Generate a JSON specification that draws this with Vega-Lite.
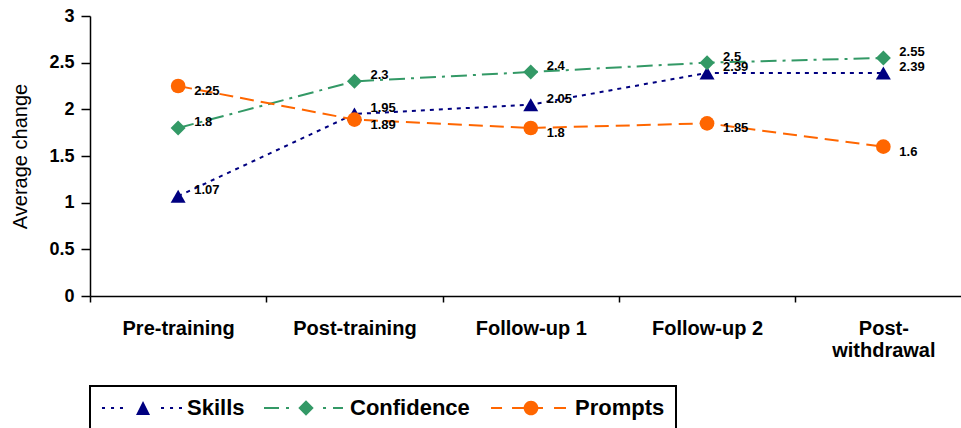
{
  "$schema": "https://vega.github.io/schema/vega-lite/v6.json",
  "width": 871,
  "height": 280,
  "autosize": {"type": "none"},
  "padding": {"left": 90, "top": 16, "right": 0, "bottom": 132},
  "background": "white",
  "config": {
    "view": {"stroke": null},
    "font": "Liberation Sans",
    "legend": {
      "orient": "bottom",
      "direction": "horizontal",
      "offset": 26,
      "strokeColor": "black",
      "strokeWidth": 2,
      "padding": 11,
      "symbolSize": 196,
      "symbolStrokeWidth": 0,
      "symbolOpacity": 1,
      "labelOffset": 64,
      "labelFont": "Liberation Sans",
      "labelFontSize": 22,
      "labelFontWeight": "bold",
      "labelColor": "black",
      "columnPadding": 19,
      "labelLimit": 0
    }
  },
  "data": {
    "values": [
      {"stage": "Pre-training", "series": "Skills", "value": 1.07},
      {"stage": "Post-training", "series": "Skills", "value": 1.95},
      {"stage": "Follow-up 1", "series": "Skills", "value": 2.05},
      {"stage": "Follow-up 2", "series": "Skills", "value": 2.39},
      {"stage": "Post-withdrawal", "series": "Skills", "value": 2.39},
      {"stage": "Pre-training", "series": "Confidence", "value": 1.8},
      {"stage": "Post-training", "series": "Confidence", "value": 2.3},
      {"stage": "Follow-up 1", "series": "Confidence", "value": 2.4},
      {"stage": "Follow-up 2", "series": "Confidence", "value": 2.5},
      {"stage": "Post-withdrawal", "series": "Confidence", "value": 2.55},
      {"stage": "Pre-training", "series": "Prompts", "value": 2.25},
      {"stage": "Post-training", "series": "Prompts", "value": 1.89},
      {"stage": "Follow-up 1", "series": "Prompts", "value": 1.8},
      {"stage": "Follow-up 2", "series": "Prompts", "value": 1.85},
      {"stage": "Post-withdrawal", "series": "Prompts", "value": 1.6}
    ]
  },
  "encoding": {
    "x": {
      "field": "stage",
      "type": "nominal",
      "sort": ["Pre-training", "Post-training", "Follow-up 1", "Follow-up 2", "Post-withdrawal"],
      "scale": {"type": "band", "paddingInner": 0, "paddingOuter": 0, "range": [0, 881.5]},
      "title": null,
      "axis": {
        "labelAngle": 0,
        "tickBand": "extent",
        "tickSize": 6,
        "tickWidth": 1.5,
        "tickColor": "black",
        "domainColor": "black",
        "domainWidth": 1.5,
        "labelFont": "Liberation Sans",
        "labelFontSize": 20,
        "labelFontWeight": "bold",
        "labelColor": "black",
        "labelPadding": 16,
        "labelLineHeight": 22,
        "labelLimit": 0,
        "labelExpr": "datum.label == 'Post-withdrawal' ? ['Post-', 'withdrawal'] : datum.label",
        "grid": false
      }
    },
    "y": {
      "field": "value",
      "type": "quantitative",
      "scale": {"domain": [0, 3], "nice": false},
      "title": "Average change",
      "axis": {
        "values": [0, 0.5, 1, 1.5, 2, 2.5, 3],
        "format": "~g",
        "grid": false,
        "tickSize": 9,
        "tickWidth": 1.5,
        "tickColor": "black",
        "domainColor": "black",
        "domainWidth": 1.5,
        "labelFont": "Liberation Sans",
        "labelFontSize": 18,
        "labelFontWeight": "bold",
        "labelColor": "black",
        "labelPadding": 7,
        "titleFont": "Liberation Sans",
        "titleFontSize": 20,
        "titleFontWeight": "normal",
        "titleColor": "black",
        "titlePadding": 18
      }
    }
  },
  "layer": [
    {
      "transform": [{"filter": "datum.series === 'Skills'"}],
      "mark": {"type": "line", "color": "#000080", "strokeWidth": 2, "strokeDash": [4, 5]}
    },
    {
      "transform": [{"filter": "datum.series === 'Confidence'"}],
      "mark": {"type": "line", "color": "#339966", "strokeWidth": 2, "strokeDash": [16, 6, 3, 6]}
    },
    {
      "transform": [{"filter": "datum.series === 'Prompts'"}],
      "mark": {"type": "line", "color": "#FF6600", "strokeWidth": 2, "strokeDash": [14, 7]}
    },
    {
      "mark": {"type": "point", "filled": true, "opacity": 0},
      "encoding": {
        "color": {
          "field": "series",
          "type": "nominal",
          "scale": {"domain": ["Skills", "Confidence", "Prompts"], "range": ["#000080", "#339966", "#FF6600"]},
          "legend": {"title": null, "symbolOpacity": 1}
        },
        "shape": {
          "field": "series",
          "type": "nominal",
          "scale": {
            "domain": ["Skills", "Confidence", "Prompts"],
            "range": [
              "M-1.43,-0.15H-1V0.15H-1.43Z M-0.14,-0.15H0.29V0.15H-0.14Z M1.14,-0.15H1.57V0.15H1.14Z M4.43,-1L5.43,1L3.43,1Z M7,-0.15H7.43V0.15H7Z M8.29,-0.15H8.72V0.15H8.29Z M9.57,-0.15H10V0.15H9.57Z",
              "M-1.57,-0.15H0.57V0.15H-1.57Z M1.57,-0.15H2V0.15H1.57Z M4.43,-1.1L5.53,0L4.43,1.1L3.33,0Z M6.86,-0.15H7.29V0.15H6.86Z M8.29,-0.15H9.71V0.15H8.29Z",
              "M-1.28,-0.15H0.29V0.15H-1.28Z M1.72,-0.15H3.43V0.15H1.72Z M5.48,0A1.05,1.05 0 1,1 3.38,0A1.05,1.05 0 1,1 5.48,0Z M5.43,-0.15H6.14V0.15H5.43Z M7.72,-0.15H9.43V0.15H7.72Z"
            ]
          },
          "legend": {"title": null, "symbolOpacity": 1}
        }
      }
    },
    {
      "transform": [{"filter": "datum.series === 'Skills'"}],
      "mark": {"type": "point", "shape": "triangle-up", "filled": true, "opacity": 1, "color": "#000080", "size": 225}
    },
    {
      "transform": [{"filter": "datum.series === 'Confidence'"}],
      "mark": {"type": "point", "shape": "diamond", "filled": true, "opacity": 1, "color": "#339966", "size": 225}
    },
    {
      "transform": [{"filter": "datum.series === 'Prompts'"}],
      "mark": {"type": "point", "shape": "circle", "filled": true, "opacity": 1, "color": "#FF6600", "size": 215}
    },
    {
      "transform": [{"filter": "datum.series === 'Skills'"}],
      "mark": {"type": "text", "align": "left", "baseline": "middle", "dx": 16, "dy": -6, "fontSize": 13, "fontWeight": "bold", "color": "black", "font": "Liberation Sans"},
      "encoding": {"text": {"field": "value", "type": "quantitative", "format": "~g"}}
    },
    {
      "transform": [{"filter": "datum.series === 'Confidence'"}],
      "mark": {"type": "text", "align": "left", "baseline": "middle", "dx": 16, "dy": -6, "fontSize": 13, "fontWeight": "bold", "color": "black", "font": "Liberation Sans"},
      "encoding": {"text": {"field": "value", "type": "quantitative", "format": "~g"}}
    },
    {
      "transform": [{"filter": "datum.series === 'Prompts'"}],
      "mark": {"type": "text", "align": "left", "baseline": "middle", "dx": 16, "dy": 5, "fontSize": 13, "fontWeight": "bold", "color": "black", "font": "Liberation Sans"},
      "encoding": {"text": {"field": "value", "type": "quantitative", "format": "~g"}}
    }
  ]
}
